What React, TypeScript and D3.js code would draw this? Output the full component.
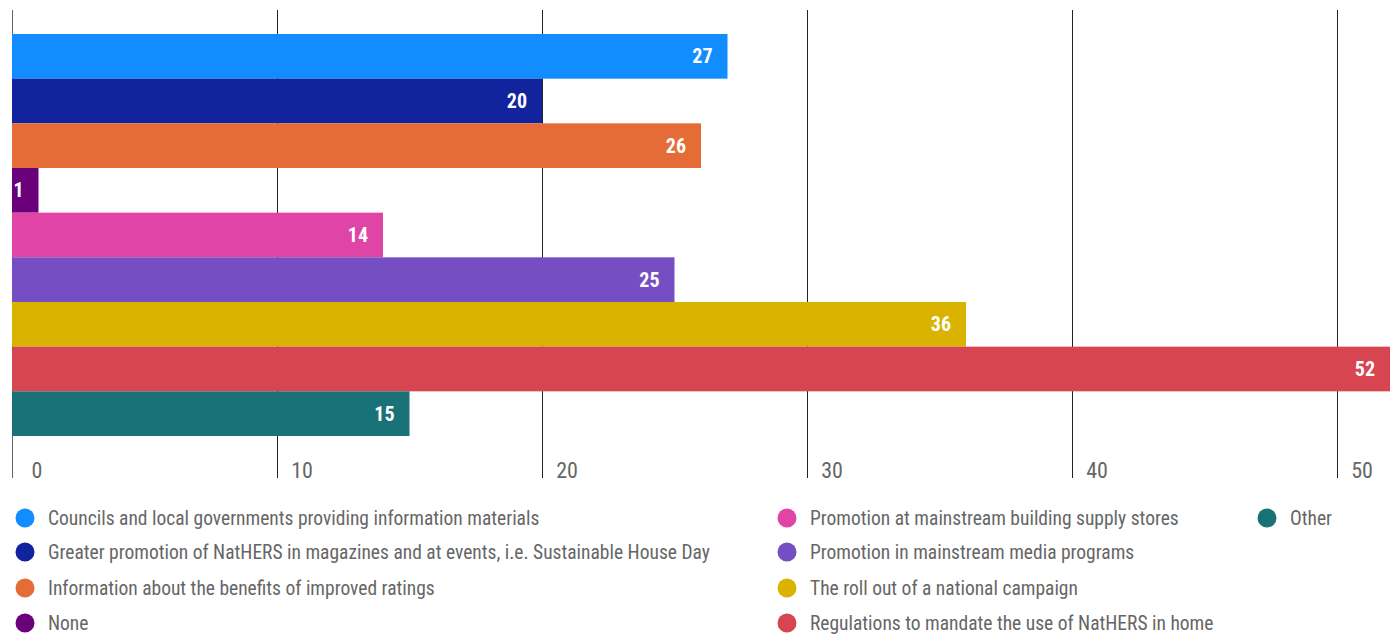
import * as d3 from 'd3'
import React, { useRef, useEffect } from 'react'

// chart values, top to bottom
const categories = [
    'Councils and local governments providing information materials',
    'Greater promotion of NatHERS in magazines and at events, i.e. Sustainable House Day',
    'Information about the benefits of improved ratings',
    'None',
    'Promotion at mainstream building supply stores',
    'Promotion in mainstream media programs',
    'The roll out of a national campaign',
    'Regulations to mandate the use of NatHERS in home',
    'Other',
]
const values = [27, 20, 26, 1, 14, 25, 36, 52, 15]
const colors = ['#118DFF', '#12239E', '#E66C37', '#6B007B', '#E044A7', '#744EC2', '#D9B300', '#D64550', '#197278']
const tickValues = [0, 10, 20, 30, 40, 50]

// legend columns (indexes into categories)
const legendColumns = [[0, 1, 2, 3], [4, 5, 6, 7], [8]]

const FONT = '"Roboto Condensed", "Liberation Sans Narrow", Roboto, sans-serif'

export default function App() {
    const svgRef = useRef(null)

    useEffect(() => {
        const w = 1391
        const h = 635
        const svg = d3.select(svgRef.current)
            .attr('width', w)
            .attr('height', h)
        svg.selectAll('*').remove()

        // scales
        const x = d3.scaleLinear().domain([0, 52]).range([12, 1390])
        const y = d3.scaleBand().domain(categories).range([34, 436]).padding(0)

        // gridlines
        svg.append('g')
            .selectAll('line')
            .data(tickValues)
            .join('line')
            .attr('x1', d => Math.round(x(d)) + 0.5)
            .attr('x2', d => Math.round(x(d)) + 0.5)
            .attr('y1', 10)
            .attr('y2', 478)
            .attr('stroke', d => d === 0 ? '#666' : '#222')
            .attr('stroke-width', 1)

        // tick labels sit to the right of their line
        svg.append('g')
            .selectAll('text')
            .data(tickValues)
            .join('text')
            .text(d => d)
            .attr('x', d => x(d) + 25)
            .attr('y', 478)
            .attr('text-anchor', 'middle')
            .style('font-family', FONT)
            .style('font-size', '22px')
            .attr('fill', '#666')

        // bars
        svg.append('g')
            .selectAll('rect')
            .data(values)
            .join('rect')
            .attr('x', x(0))
            .attr('y', (d, i) => y(categories[i]))
            .attr('width', d => x(d) - x(0))
            .attr('height', y.bandwidth())
            .attr('fill', (d, i) => colors[i])

        // value labels
        svg.append('g')
            .selectAll('text')
            .data(values)
            .join('text')
            .text(d => d)
            .attr('x', d => x(d) - 15)
            .attr('y', (d, i) => y(categories[i]) + y.bandwidth() / 2 + 7)
            .attr('text-anchor', 'end')
            .style('font-family', FONT)
            .style('font-size', '20px')
            .style('font-weight', 'bold')
            .attr('fill', '#fff')

        // legend
        const colX = [25, 787, 1267]
        const rowY = [518, 552, 588, 623]
        legendColumns.forEach((col, c) => {
            const g = svg.append('g')
            const items = g.selectAll('g')
                .data(col)
                .join('g')
                .attr('transform', (d, r) => `translate(${colX[c]},${rowY[r]})`)
            items.append('circle')
                .attr('r', 9.5)
                .attr('fill', d => colors[d])
            items.append('text')
                .text(d => categories[d])
                .attr('x', 23)
                .attr('y', 7)
                .style('font-family', FONT)
                .style('font-size', '19.5px')
                .attr('fill', '#666')
        })
    }, [])

    return (
        <div style={{ position: 'absolute', left: 0, top: 0 }}>
            <svg ref={svgRef} style={{ display: 'block' }}></svg>
        </div>
    )
}
